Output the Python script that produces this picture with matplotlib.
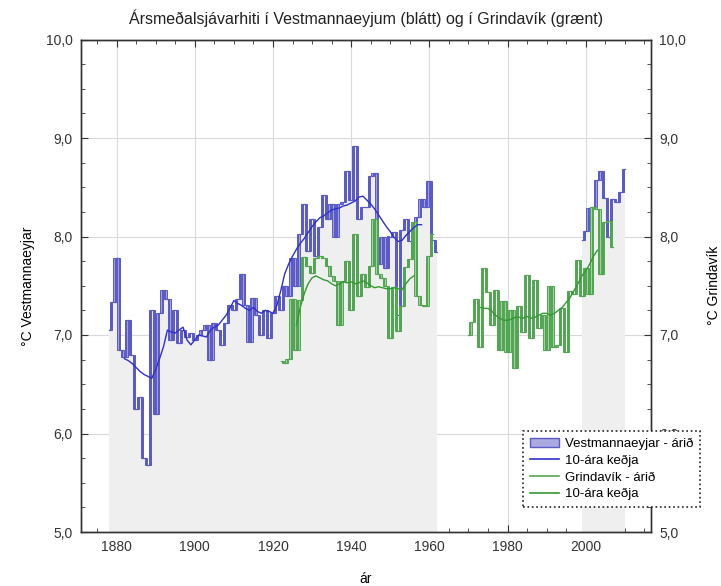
import numpy as np
import matplotlib
matplotlib.use('Agg')
import matplotlib.pyplot as plt
from matplotlib.patches import Patch
from matplotlib.lines import Line2D
from matplotlib.ticker import MultipleLocator, FuncFormatter

plt.rcParams.update({'font.family': ['Liberation Sans', 'DejaVu Sans']})

# Vestmannaeyjar, annual mean sea temperature
vest_years_a = list(range(1878, 1963))
vest_temp_a = [7.05, 7.34, 7.78, 6.85, 6.78, 7.15, 6.80, 6.25, 6.37, 5.75,
               5.68, 7.25, 6.20, 7.22, 7.46, 7.37, 6.95, 7.25, 6.92, 7.05,
               6.98, 7.02, 6.95, 7.00, 7.05, 7.10, 6.75, 7.12, 7.05, 6.90,
               7.12, 7.30, 7.25, 7.37, 7.62, 7.30, 6.93, 7.38, 7.20, 7.00,
               7.25, 6.97, 7.22, 7.40, 7.25, 7.50, 7.40, 7.78, 7.50, 8.03,
               8.33, 7.85, 8.18, 7.80, 8.10, 8.42, 8.18, 8.33, 8.00, 8.33,
               8.35, 8.67, 8.37, 8.92, 8.18, 8.30, 8.30, 8.61, 8.64, 7.72,
               7.99, 7.68, 8.00, 8.05, 7.20, 8.07, 8.18, 7.95, 7.80, 8.20,
               8.38, 8.30, 8.56, 7.96, 7.84]
vest_years_b = list(range(1999, 2011))
vest_temp_b = [7.96, 8.06, 8.29, 8.30, 8.57, 8.67, 8.39, 8.00, 8.38, 8.35,
               8.45, 8.69]

# Vestmannaeyjar, 10-year running mean
vest_mean_years = list(range(1882, 1959))
vest_mean = [6.76, 6.74, 6.71, 6.67, 6.63, 6.60, 6.58, 6.56, 6.65, 6.76,
             6.88, 7.05, 7.03, 7.02, 7.05, 7.08, 6.95, 6.90, 6.95, 7.00,
             6.99, 6.98, 7.05, 7.08, 7.10, 7.15, 7.20, 7.27, 7.35, 7.32,
             7.30, 7.27, 7.25, 7.28, 7.24, 7.22, 7.25, 7.24, 7.22, 7.30,
             7.45, 7.62, 7.72, 7.80, 7.87, 7.93, 7.98, 8.04, 8.10, 8.15,
             8.19, 8.21, 8.24, 8.27, 8.28, 8.29, 8.31, 8.32, 8.34, 8.36,
             8.40, 8.41, 8.37, 8.33, 8.28, 8.22, 8.16, 8.10, 8.05, 7.99,
             7.95, 7.96, 8.01, 8.05, 8.09, 8.12, 8.12]

# Grindavik, annual mean sea temperature
grin_years_a = list(range(1922, 1962))
grin_temp_a = [6.74, 6.72, 6.76, 7.37, 6.85, 7.36, 7.79, 7.70, 7.63, 7.78,
               7.80, 7.78, 7.70, 7.60, 7.55, 7.10, 7.55, 7.75, 7.25, 8.03,
               7.40, 7.62, 7.49, 7.70, 8.18, 7.62, 7.58, 7.50, 6.97, 7.49,
               7.04, 7.29, 7.69, 7.77, 8.15, 7.40, 7.30, 7.29, 7.80, 8.03]
grin_years_b = list(range(1970, 2008))
grin_temp_b = [7.00, 7.13, 7.37, 6.88, 7.68, 7.44, 7.10, 7.46, 6.85, 7.35,
               6.83, 7.25, 6.66, 7.29, 7.03, 7.61, 6.97, 7.56, 7.07, 7.20,
               6.85, 7.50, 6.88, 6.90, 7.27, 6.83, 7.45, 7.42, 7.76, 7.40,
               7.68, 7.42, 8.30, 8.28, 7.62, 8.15, 8.16, 7.89]

# Grindavik, 10-year running mean
grin_mean_years_a = list(range(1926, 1957))
grin_mean_a = [7.10, 7.28, 7.42, 7.52, 7.58, 7.60, 7.58, 7.56, 7.55, 7.52,
               7.50, 7.52, 7.54, 7.53, 7.54, 7.52, 7.53, 7.55, 7.53, 7.50,
               7.48, 7.49, 7.48, 7.47, 7.47, 7.48, 7.47, 7.46, 7.52, 7.57,
               7.60]
grin_mean_years_b = list(range(1973, 2004))
grin_mean_b = [7.28, 7.27, 7.27, 7.24, 7.20, 7.17, 7.15, 7.15, 7.16, 7.18,
               7.18, 7.17, 7.19, 7.17, 7.18, 7.20, 7.22, 7.22, 7.20, 7.22,
               7.25, 7.28, 7.33, 7.38, 7.45, 7.52, 7.60, 7.65, 7.72, 7.80,
               7.86]

BLUE, BLUE_FILL, BLUE_MEAN = '#5a5ac8', '#aaaadf', '#3030d0'
GREEN, GREEN_FILL, GREEN_MEAN = '#52a552', '#add8ad', '#329a32'
SHADE = '#efefef'
INK = '#333333'


def annual_steps(ax, years, temps, line_c, fill_c, z):
    years = np.asarray(years, dtype=float)
    temps = np.asarray(temps, dtype=float)
    ax.step(years, temps, where='mid', color=line_c, lw=0.9, zorder=z + 0.1)
    lo = np.minimum(temps[:-1], temps[1:])
    hi = np.maximum(temps[:-1], temps[1:])
    ax.bar(years[1:] - 0.5, hi - lo, bottom=lo, width=0.6,
           color=fill_c, edgecolor=line_c, linewidth=0.7, zorder=z)


def comma_fmt(v, pos):
    return f'{v:.1f}'.replace('.', ',')


fig = plt.figure(figsize=(7.21, 5.86), dpi=100)
ax = fig.add_axes([81 / 721, 54 / 586, 570 / 721, 492.5 / 586])

# shaded area under the Vestmannaeyjar series
for yrs, tmp in [(vest_years_a, vest_temp_a), (vest_years_b, vest_temp_b)]:
    ax.fill_between(yrs, 5, tmp, step='mid', color=SHADE, lw=0, zorder=1)

annual_steps(ax, vest_years_a, vest_temp_a, BLUE, BLUE_FILL, 2)
annual_steps(ax, vest_years_b, vest_temp_b, BLUE, BLUE_FILL, 2)
annual_steps(ax, grin_years_a, grin_temp_a, GREEN, GREEN_FILL, 3)
annual_steps(ax, grin_years_b, grin_temp_b, GREEN, GREEN_FILL, 3)

ax.plot(vest_mean_years, vest_mean, color=BLUE_MEAN, lw=1.0, zorder=5)
ax.plot(grin_mean_years_a, grin_mean_a, color=GREEN_MEAN, lw=1.0, zorder=5)
ax.plot(grin_mean_years_b, grin_mean_b, color=GREEN_MEAN, lw=1.0, zorder=5)

ax.set_xlim(1870.9, 2016.7)
ax.set_ylim(5, 10)
ax.xaxis.set_major_locator(MultipleLocator(20))
ax.xaxis.set_minor_locator(MultipleLocator(5))
ax.grid(True, which='major', color='#d9d9d9', lw=0.8)
ax.set_axisbelow(True)

# right-hand axis for Grindavik, same scale
ax2 = ax.twinx()
ax2.set_ylim(5, 10)

for a in (ax, ax2):
    a.yaxis.set_major_locator(MultipleLocator(1))
    a.yaxis.set_minor_locator(MultipleLocator(0.25))
    a.yaxis.set_major_formatter(FuncFormatter(comma_fmt))
    a.tick_params(which='both', direction='in', labelsize=10, colors=INK)
    a.tick_params(which='major', length=5, pad=6)
    a.tick_params(which='minor', length=3)
    for s in a.spines.values():
        s.set_color(INK)
        s.set_linewidth(1.0)
ax.tick_params(axis='x', which='both', top=True)

ax.set_title('Ársmeðalsjávarhiti í Vestmannaeyjum (blátt) og í Grindavík (grænt)',
             fontsize=11.5, color='#222222', pad=11)
ax.set_xlabel('ár', fontsize=10, labelpad=13)
ax.set_ylabel('°C Vestmannaeyjar', fontsize=10, labelpad=8)
ax2.set_ylabel('°C Grindavík', fontsize=10, labelpad=15)

handles = [Patch(facecolor=BLUE_FILL, edgecolor=BLUE, lw=1.0),
           Line2D([], [], color=BLUE_MEAN, lw=1.2),
           Line2D([], [], color=GREEN, lw=1.2),
           Line2D([], [], color=GREEN_MEAN, lw=1.2)]
labels = ['Vestmannaeyjar - árið', '10-ára keðja', 'Grindavík - árið', '10-ára keðja']
leg = fig.legend(handles, labels, loc='lower left',
                 bbox_to_anchor=(523 / 721, 1 - 507 / 586), fontsize=9.5,
                 frameon=True, fancybox=False, borderpad=0.5, labelspacing=0.35,
                 handlelength=2.2, handletextpad=0.5, borderaxespad=0)
leg.set_zorder(20)
frame = leg.get_frame()
frame.set_edgecolor('#222222')
frame.set_linestyle(':')
frame.set_linewidth(1.2)
frame.set_facecolor('white')
frame.set_alpha(1)

fig.savefig('out.png', dpi=100)
